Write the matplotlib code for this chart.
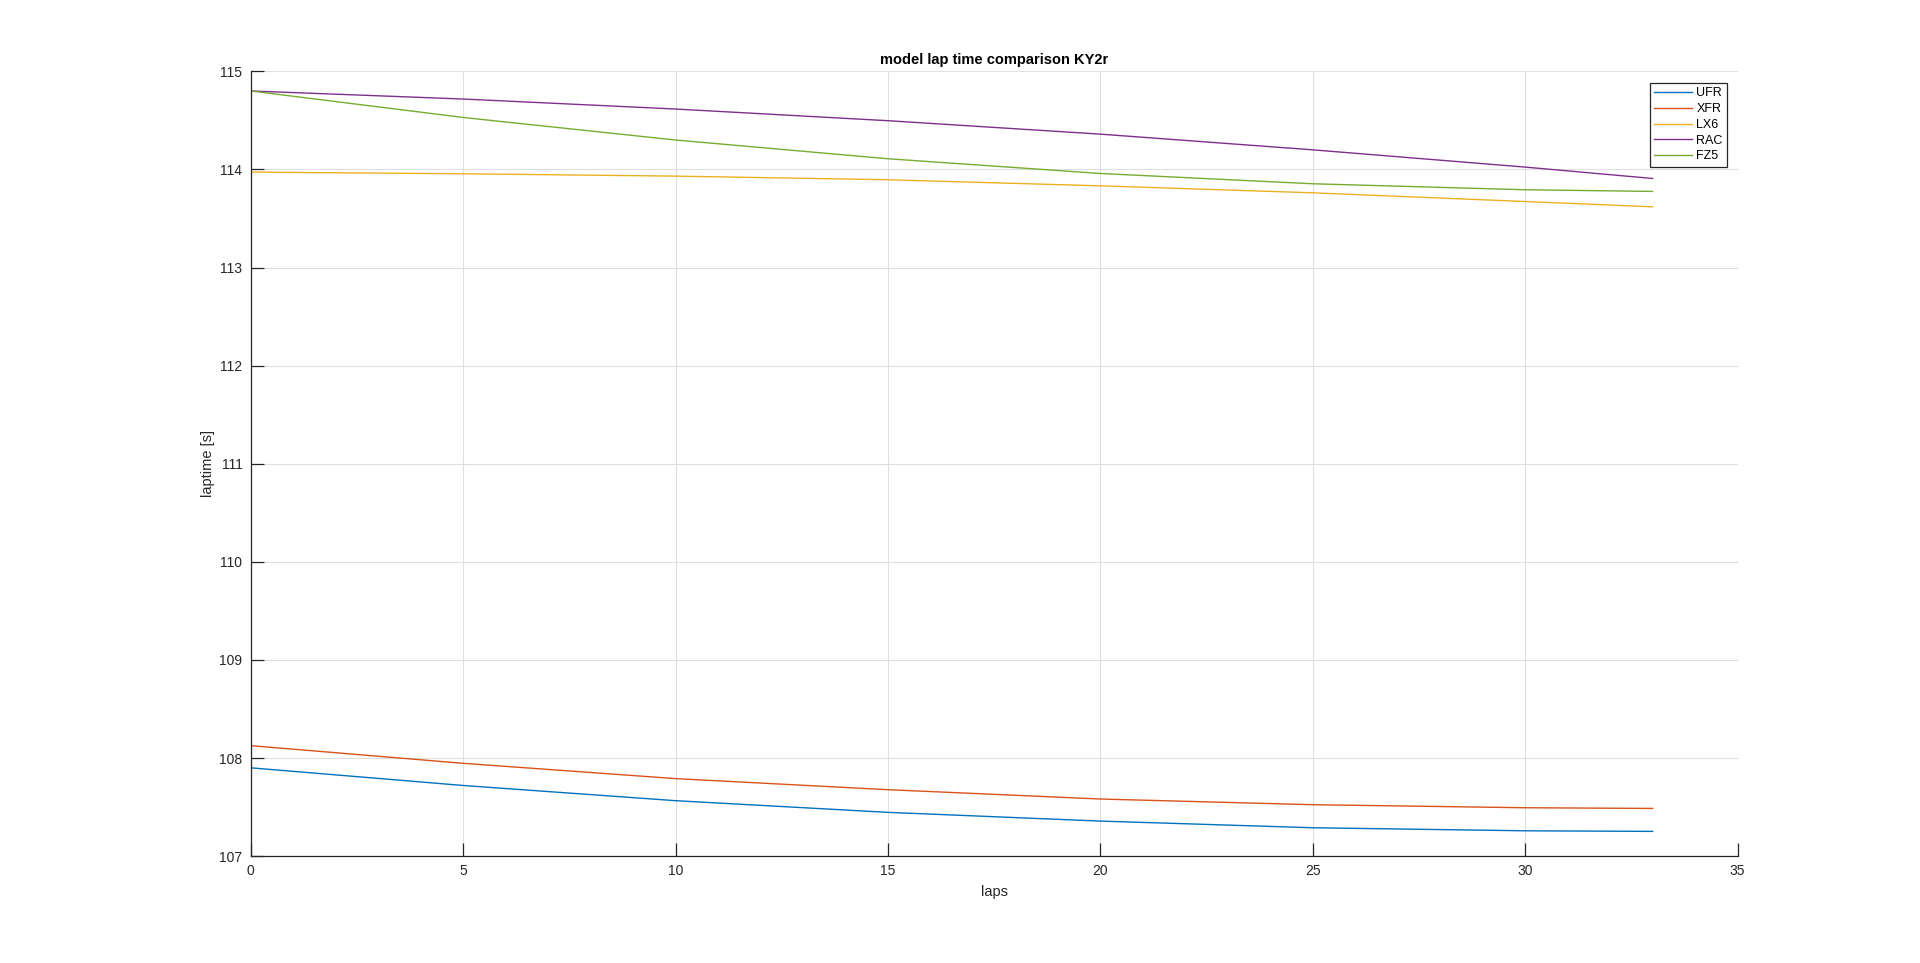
#Lap time model comparison for KY2r, redrawn in matplotlib
import matplotlib
matplotlib.use("Agg")
import matplotlib.pyplot as plt

plt.rcParams['font.family'] = ['Liberation Sans', 'DejaVu Sans']

#Values at every 5 laps (plus last lap)
laps = [0, 5, 10, 15, 20, 25, 30, 33]
ufr = [107.90, 107.72, 107.565, 107.446, 107.357, 107.289, 107.258, 107.252]
xfr = [108.126, 107.946, 107.79, 107.677, 107.582, 107.524, 107.493, 107.486]
lx6 = [113.973, 113.956, 113.932, 113.895, 113.833, 113.762, 113.673, 113.619]
rac = [114.80, 114.718, 114.616, 114.497, 114.36, 114.20, 114.024, 113.908]
fz5 = [114.80, 114.53, 114.30, 114.109, 113.959, 113.854, 113.793, 113.776]

names = ["UFR", "XFR", "LX6", "RAC", "FZ5"]
colors = ["#0072BD", "#D95319", "#EDB120", "#7E2F8E", "#77AC30"]
xticks = [0, 5, 10, 15, 20, 25, 30, 35]
yticks = [107, 108, 109, 110, 111, 112, 113, 114, 115]

fig = plt.figure(figsize=(19.2, 9.63), dpi=100)
ax = fig.add_axes([0.1306, 0.111, 0.7744, 0.8149])

for series, name, c in zip([ufr, xfr, lx6, rac, fz5], names, colors):
    ax.plot(laps, series, color=c, linewidth=1.0, label=name)

ax.set_xlim(0, 35)
ax.set_ylim(107, 115)
ax.set_xticks(xticks)
ax.set_yticks(yticks)
ax.grid(True, color="#dfdfdf", linewidth=0.8)
ax.set_axisbelow(True)

#MATLAB style axes: only left/bottom lines, inward ticks
ax.spines['top'].set_visible(False)
ax.spines['right'].set_visible(False)
for s in ['left', 'bottom']:
    ax.spines[s].set_color("#262626")
    ax.spines[s].set_linewidth(0.9)
ax.tick_params(direction='in', length=9.5, width=0.9, color="#262626",
               labelsize=10, labelcolor="#262626", pad=6)

ax.set_xlabel("laps", fontsize=10.5, color="#262626", labelpad=5)
ax.set_ylabel("laptime [s]", fontsize=10.5, color="#262626", labelpad=3)
ax.set_title("model lap time comparison KY2r", fontsize=10.5, fontweight='bold',
             color="black", pad=5)

leg = ax.legend(loc='upper right', bbox_to_anchor=(0.9929, 0.9851), borderaxespad=0,
                fontsize=9, handlelength=3.0, handletextpad=0.35, labelspacing=0.3,
                borderpad=0.35, fancybox=False, framealpha=1, edgecolor="#262626")
leg.get_frame().set_linewidth(0.9)

plt.savefig("out.png", dpi=100)
